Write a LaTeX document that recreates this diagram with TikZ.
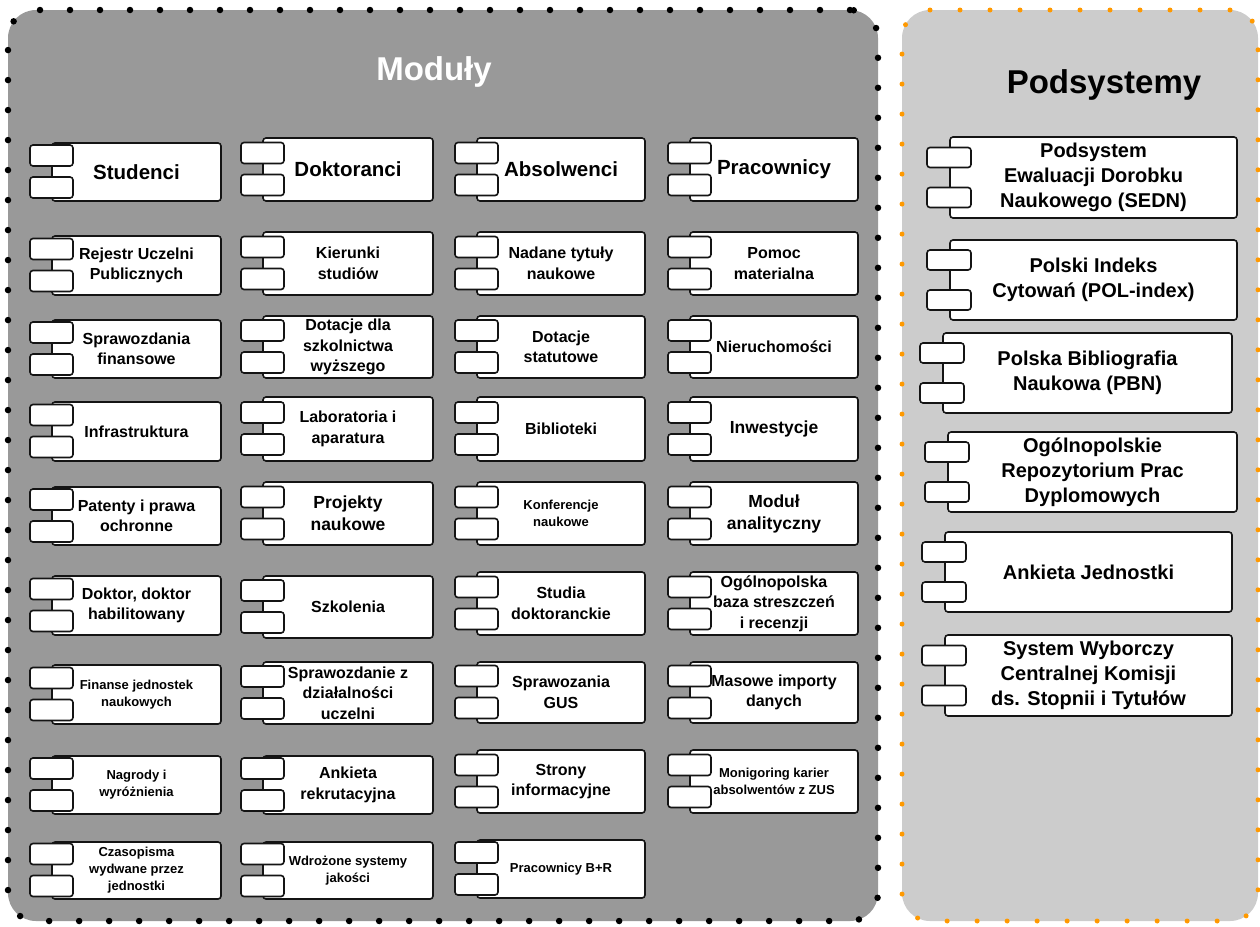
\documentclass[tikz,border=0pt]{standalone}
\usepackage{fontspec}
\setmainfont{Liberation Sans}
\definecolor{modfill}{HTML}{999999}
\definecolor{podfill}{HTML}{CCCCCC}
\definecolor{dotorange}{HTML}{FF9900}
\definecolor{edge}{HTML}{141414}
\newcommand\mycomp[7]{%
  \node[box, #6, minimum width=#5pt, minimum height={(#4-#3)*1pt}] (#1) at (#2,#3) {#7};
  \draw[tab] ([shift={(-22pt,6pt)}]#1.west) rectangle ([shift={(21pt,27pt)}]#1.west);
  \draw[tab] ([shift={(-22pt,-5pt)}]#1.west) rectangle ([shift={(21pt,-26pt)}]#1.west);
}
\newcommand\mysub[7]{%
  \node[box, #6, minimum width=#5pt, minimum height={(#4-#3)*1pt}] (#1) at (#2,#3) {#7};
  \draw[tab] ([shift={(-23pt,10pt)}]#1.west) rectangle ([shift={(21pt,30pt)}]#1.west);
  \draw[tab] ([shift={(-23pt,-10pt)}]#1.west) rectangle ([shift={(21pt,-30pt)}]#1.west);
}
\begin{document}
\begin{tikzpicture}[x=1pt,y=-1pt,
  box/.style={draw=edge, line width=1.6pt, fill=white, rounded corners=3pt,
    inner sep=0pt, outer sep=0pt, anchor=north west, align=center},
  tab/.style={draw=edge, line width=1.6pt, fill=white, rounded corners=3pt},
  big/.style={font=\fontsize{20.5}{24}\selectfont\bfseries},
  norm/.style={font=\fontsize{16}{20.5}\selectfont\bfseries},
  med/.style={font=\fontsize{17.5}{22}\selectfont\bfseries},
  small/.style={font=\fontsize{13}{17}\selectfont\bfseries},
  sub/.style={font=\fontsize{20}{25}\selectfont\bfseries},
  container/.style={rounded corners=28pt, anchor=north west, inner sep=0pt, outer sep=0pt,
    line cap=round, dash pattern=on 0pt off 30pt},
  title/.style={font=\fontsize{33}{38}\selectfont\bfseries}
]
\useasboundingbox (0,0) rectangle (1260,926);
% containers
\node[container, fill=modfill, draw=black, line width=6.5pt,
  minimum width=870pt, minimum height=911pt] (moduly) at (8,10) {};
\node[container, fill=podfill, draw=dotorange, line width=5pt,
  minimum width=356pt, minimum height=911pt] (podsys) at (902,10) {};
\node[title, text=white] (tmod) at (434,72) {Moduły};
\node[title, text=black] (tpod) at (1104,85) {Podsystemy};
% row 1
\mycomp{stud}{52}{143}{201}{169}{big}{Studenci}
\mycomp{dokt}{263}{138}{201}{170}{big}{Doktoranci}
\mycomp{abs}{477}{138}{201}{168}{big}{Absolwenci}
\mycomp{prac}{690}{138}{201}{168}{big}{Pracownicy}
% row 2
\mycomp{rup}{52}{236}{295}{169}{norm}{Rejestr Uczelni\\Publicznych}
\mycomp{kier}{263}{232}{295}{170}{norm}{Kierunki\\studiów}
\mycomp{nad}{477}{232}{295}{168}{norm}{Nadane tytuły\\naukowe}
\mycomp{pom}{690}{232}{295}{168}{norm}{Pomoc\\materialna}
% row 3
\mycomp{spr}{52}{320}{378}{169}{norm}{Sprawozdania\\finansowe}
\mycomp{dot}{263}{316}{378}{170}{norm}{Dotacje dla\\szkolnictwa\\wyższego}
\mycomp{dots}{477}{316}{378}{168}{norm}{Dotacje\\statutowe}
\mycomp{nier}{690}{316}{378}{168}{norm}{Nieruchomości}
% row 4
\mycomp{infra}{52}{402}{461}{169}{norm}{Infrastruktura}
\mycomp{lab}{263}{397}{461}{170}{norm}{Laboratoria i\\aparatura}
\mycomp{bib}{477}{397}{461}{168}{norm}{Biblioteki}
\mycomp{inw}{690}{397}{461}{168}{med}{Inwestycje}
% row 5
\mycomp{pat}{52}{487}{545}{169}{norm}{Patenty i prawa\\ochronne}
\mycomp{proj}{263}{482}{545}{170}{med}{Projekty\\naukowe}
\mycomp{konf}{477}{482}{545}{168}{small}{Konferencje\\naukowe}
\mycomp{anal}{690}{482}{545}{168}{med}{Moduł\\analityczny}
% row 6
\mycomp{dr}{52}{576}{635}{169}{norm}{Doktor, doktor\\habilitowany}
\mycomp{szk}{263}{576}{638}{170}{norm}{Szkolenia}
\mycomp{sd}{477}{572}{635}{168}{norm}{Studia\\doktoranckie}
\mycomp{obs}{690}{572}{635}{168}{norm}{Ogólnopolska\\baza streszczeń\\i recenzji}
% row 7
\mycomp{fin}{52}{665}{724}{169}{small}{Finanse jednostek\\naukowych}
\mycomp{sdu}{263}{662}{724}{170}{norm}{Sprawozdanie z\\działalności\\uczelni}
\mycomp{gus}{477}{662}{723}{168}{norm}{Sprawozania\\GUS}
\mycomp{mas}{690}{662}{723}{168}{norm}{Masowe importy\\danych}
% row 8
\mycomp{nag}{52}{756}{814}{169}{small}{Nagrody i\\wyróżnienia}
\mycomp{ank}{263}{756}{814}{170}{norm}{Ankieta\\rekrutacyjna}
\mycomp{str}{477}{750}{813}{168}{norm}{Strony\\informacyjne}
\mycomp{mon}{690}{750}{813}{168}{small}{Monigoring karier\\absolwentów z ZUS}
% row 9
\mycomp{czas}{52}{842}{899}{169}{small}{Czasopisma\\wydwane przez\\jednostki}
\mycomp{wdr}{263}{842}{899}{170}{small}{Wdrożone systemy\\jakości}
\mycomp{br}{477}{840}{898}{168}{small}{Pracownicy B+R}
% subsystems
\mysub{sedn}{950}{137}{218}{287}{sub}{Podsystem\\Ewaluacji Dorobku\\Naukowego (SEDN)}
\mysub{pol}{950}{240}{320}{287}{sub}{Polski Indeks\\Cytowań (POL-index)}
\mysub{pbn}{943}{333}{413}{289}{sub}{Polska Bibliografia\\Naukowa (PBN)}
\mysub{orpd}{948}{432}{512}{289}{sub}{Ogólnopolskie\\Repozytorium Prac\\Dyplomowych}
\mysub{ankj}{945}{532}{612}{287}{sub}{Ankieta Jednostki}
\mysub{swc}{945}{635}{716}{287}{sub}{System Wyborczy\\Centralnej Komisji\\ds. Stopnii i Tytułów}
\end{tikzpicture}
\end{document}
